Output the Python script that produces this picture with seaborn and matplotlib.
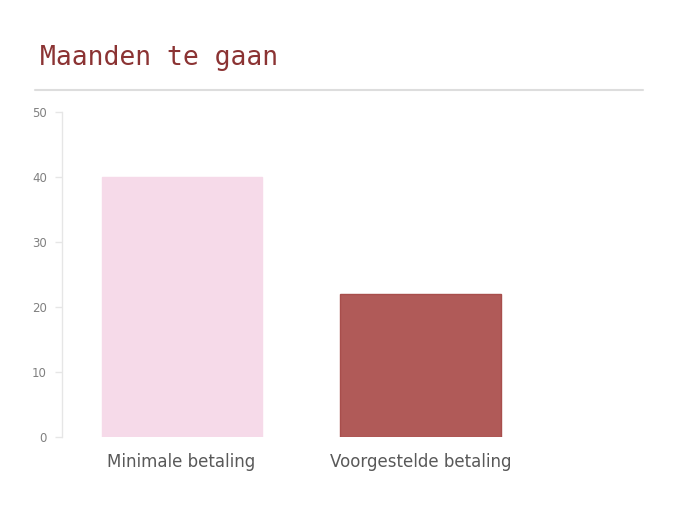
import matplotlib
matplotlib.use("Agg")
import matplotlib.pyplot as plt
import seaborn as sns
import pandas as pd

# chart values
categories = ["Minimale betaling", "Voorgestelde betaling"]
months = [40, 22]
bar_colors = ["#F6DAE9", "#B05A58"]
edge_colors = ["#F6DAE9", "#A84E4C"]
title = "Maanden te gaan"

df = pd.DataFrame({"categorie": categories, "maanden": months})

sns.set_style("white")
plt.rcParams["font.family"] = ["DejaVu Sans"]

fig = plt.figure(figsize=(6.75, 5.2), dpi=100)
ax = fig.add_axes([0.092, 0.16, 0.708, 0.625])

sns.barplot(data=df, x="categorie", y="maanden", hue="categorie",
            palette=bar_colors, width=0.67, saturation=1, legend=False, ax=ax)
for patch, ec in zip(ax.patches, edge_colors):
    patch.set_edgecolor(ec)
    patch.set_linewidth(1)

ax.set_xlim(-0.5, 1.5)
ax.set_ylim(0, 50)
ax.set_yticks(range(0, 51, 10))
ax.set_xlabel("")
ax.set_ylabel("")

for side in ["top", "right", "bottom"]:
    ax.spines[side].set_visible(False)
ax.spines["left"].set_color("#E6E6E6")
ax.spines["left"].set_linewidth(1)

ax.tick_params(axis="y", left=True, length=5, width=1, color="#E6E6E6",
               labelsize=8.5, labelcolor="#808080", pad=6)
ax.tick_params(axis="x", bottom=False, labelsize=12, labelcolor="#595959", pad=8)

# title and separator line
fig.text(0.059, 0.888, title, family=["DejaVu Sans Mono"],
         fontsize=19, color="#8B3333", va="center", ha="left")
fig.add_artist(plt.Line2D([0.052, 0.953], [0.827, 0.827], color="#DDDDDD",
                          linewidth=1.5, transform=fig.transFigure))

fig.savefig("out.png", dpi=100)
